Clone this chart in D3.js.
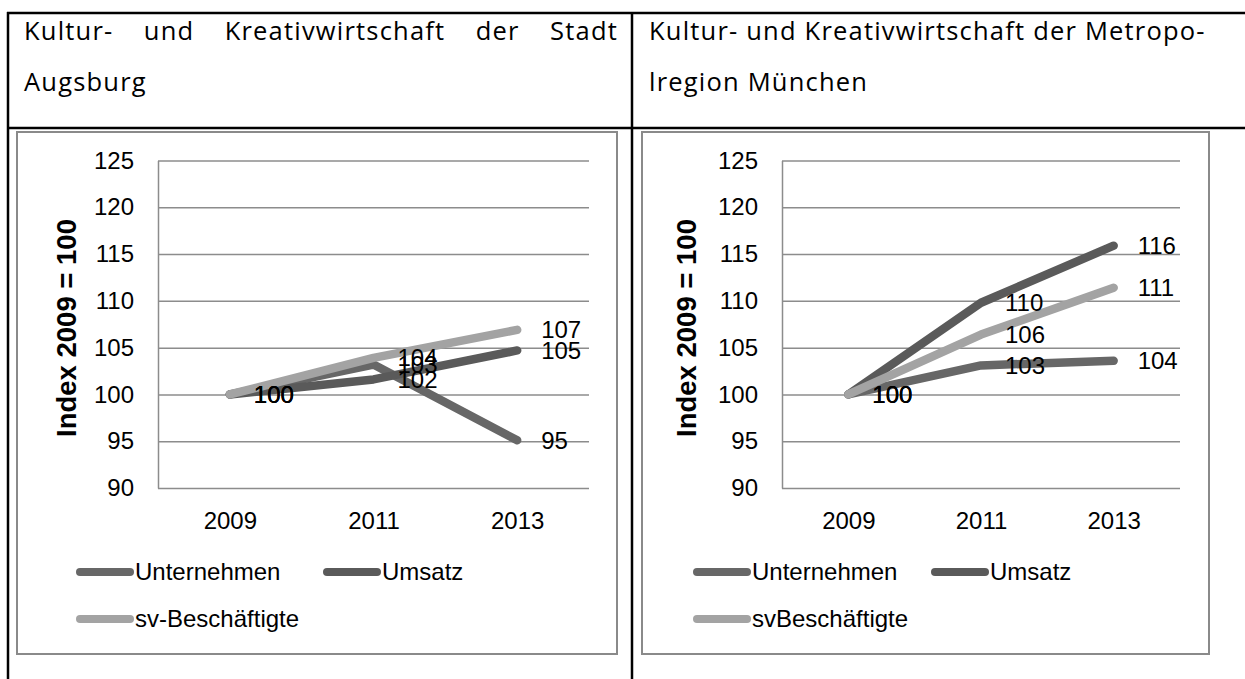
<!DOCTYPE html>
<html>
<head>
<meta charset="utf-8">
<script src="https://cdn.jsdelivr.net/npm/d3@7"></script>
<style>
  body { margin: 0; background: #fff; }
</style>
</head>
<body>
<div id="chart"></div>
<script>
(function() {

    // data
    var years = ["2009", "2011", "2013"];
    var yTicks = [90, 95, 100, 105, 110, 115, 120, 125];

    var augsburgUnternehmen = [100, 103.2, 95.1];
    var augsburgUmsatz = [100, 101.6, 104.7];
    var augsburgSv = [100, 103.9, 106.9];

    var muenchenUnternehmen = [100, 103.1, 103.6];
    var muenchenUmsatz = [100, 109.8, 115.9];
    var muenchenSv = [100, 106.4, 111.4];

    var legendAugsburg = ["Unternehmen", "Umsatz", "sv-Beschäftigte"];
    var legendMuenchen = ["Unternehmen", "Umsatz", "svBeschäftigte"];

    var titleAugsburg = ["Kultur- und Kreativwirtschaft der Stadt", "Augsburg"];
    var titleMuenchen = ["Kultur- und Kreativwirtschaft der Metropo-", "lregion München"];
    var yTitle = "Index 2009 = 100";

    var width = 1245;
    var height = 679;
    var colors = ["#676767", "#5a5a5a", "#a3a3a3"];
    var chartFont = "'Liberation Sans', Arial, sans-serif";
    var headFont = "'Open Sans', 'DejaVu Sans', sans-serif";

    var svg = d3.select("#chart")
        .append("svg")
        .attr("width", width)
        .attr("height", height);

    svg.append("rect")
        .attr("width", width)
        .attr("height", height)
        .attr("fill", "#fff");

    // table around the two charts
    var table = svg.append("g")
        .attr("stroke", "#000")
        .attr("stroke-width", 2.5);
    table.append("line").attr("x1", 7).attr("x2", width).attr("y1", 13).attr("y2", 13);
    table.append("line").attr("x1", 7).attr("x2", width).attr("y1", 128).attr("y2", 128);
    table.append("line").attr("x1", 8).attr("x2", 8).attr("y1", 12).attr("y2", height);
    table.append("line").attr("x1", 632).attr("x2", 632).attr("y1", 12).attr("y2", height);

    // header cells, first line justified on the left
    function header(lines, x0, x1, justify) {
        var g = svg.append("g")
            .style("font-family", headFont)
            .style("font-size", "25.5px")
            .style("letter-spacing", "1.2px")
            .attr("fill", "#000");
        var baselines = [40, 91];
        lines.forEach(function(line, i) {
            if (i == 0 && justify) {
                var words = line.split(" ");
                var t = g.selectAll(null)
                    .data(words)
                    .enter()
                    .append("text")
                    .attr("y", baselines[i])
                    .text(d => d);
                var widths = t.nodes().map(n => n.getComputedTextLength());
                var gap = (x1 - x0 - d3.sum(widths)) / (words.length - 1);
                var pos = x0;
                t.attr("x", function(d, k) {
                    var p = pos;
                    pos += widths[k] + gap;
                    return p;
                });
            } else {
                g.append("text")
                    .attr("x", x0)
                    .attr("y", baselines[i])
                    .text(line);
            }
        });
    }

    header(titleAugsburg, 24, 618, true);
    header(titleMuenchen, 649, 1230, false);

    var charts = [
        {
            series: [augsburgUnternehmen, augsburgUmsatz, augsburgSv],
            names: legendAugsburg,
            frame: [17, 132, 617, 654],
            plot: [158, 589],
            titleX: 66,
            legendX: [76, 323]
        },
        {
            series: [muenchenUnternehmen, muenchenUmsatz, muenchenSv],
            names: legendMuenchen,
            frame: [642, 132, 1209, 654],
            plot: [782, 1180],
            titleX: 686,
            legendX: [693, 931]
        }
    ];

    var y = d3.scaleLinear().domain([90, 125]).range([488, 160.5]);

    charts.forEach(function(c) {

        var g = svg.append("g")
            .style("font-family", chartFont);

        g.append("rect")
            .attr("x", c.frame[0])
            .attr("y", c.frame[1])
            .attr("width", c.frame[2] - c.frame[0])
            .attr("height", c.frame[3] - c.frame[1])
            .attr("fill", "#fff")
            .attr("stroke", "#8a8a8a")
            .attr("stroke-width", 2);

        var x = d3.scalePoint()
            .domain(years)
            .range(c.plot)
            .padding(0.5);

        var plotW = c.plot[1] - c.plot[0];

        var yAxis = g.append("g")
            .attr("transform", "translate(" + c.plot[0] + ",0)")
            .call(d3.axisLeft(y)
                .tickValues(yTicks)
                .tickSize(-plotW)
                .tickSizeOuter(0)
                .tickPadding(24));
        yAxis.selectAll("line").attr("stroke", "#8c8c8c").attr("stroke-width", 1.5);
        yAxis.select(".domain").attr("stroke", "#8c8c8c").attr("stroke-width", 1.5);
        yAxis.selectAll("text")
            .attr("fill", "#000")
            .style("font-size", "24px")
            .style("font-family", chartFont);

        var xAxis = g.append("g")
            .attr("transform", "translate(0," + y(90) + ")")
            .call(d3.axisBottom(x).tickSize(0).tickPadding(24));
        xAxis.select(".domain").remove();
        xAxis.selectAll("text")
            .attr("fill", "#000")
            .style("font-size", "24px")
            .style("font-family", chartFont);

        g.append("text")
            .attr("transform", "translate(" + c.titleX + "," + 328 + ") rotate(-90)")
            .attr("text-anchor", "middle")
            .attr("dy", "0.35em")
            .style("font-size", "27.5px")
            .style("font-weight", "bold")
            .text(yTitle);

        var line = d3.line()
            .x((d, i) => x(years[i]))
            .y(d => y(d));

        g.selectAll(".series")
            .data(c.series)
            .enter()
            .append("path")
            .attr("d", line)
            .attr("fill", "none")
            .attr("stroke", (d, i) => colors[i])
            .attr("stroke-width", 8.5)
            .attr("stroke-linecap", "round")
            .attr("stroke-linejoin", "round");

        // data labels right of each point
        c.series.forEach(function(s) {
            g.selectAll(null)
                .data(s)
                .enter()
                .append("text")
                .attr("x", (d, i) => x(years[i]) + 24)
                .attr("y", d => y(d))
                .attr("dy", "0.35em")
                .style("font-size", "24px")
                .text(d => Math.round(d));
        });

        // legend, two rows
        var items = [
            { name: c.names[0], color: colors[0], x: c.legendX[0], y: 572 },
            { name: c.names[1], color: colors[1], x: c.legendX[1], y: 572 },
            { name: c.names[2], color: colors[2], x: c.legendX[0], y: 619 }
        ];
        var leg = g.selectAll(".leg")
            .data(items)
            .enter()
            .append("g");
        leg.append("line")
            .attr("x1", d => d.x + 4)
            .attr("x2", d => d.x + 54)
            .attr("y1", d => d.y)
            .attr("y2", d => d.y)
            .attr("stroke", d => d.color)
            .attr("stroke-width", 8)
            .attr("stroke-linecap", "round");
        leg.append("text")
            .attr("x", d => d.x + 59)
            .attr("y", d => d.y)
            .attr("dy", "0.35em")
            .style("font-size", "24px")
            .text(d => d.name);
    });

})();
</script>
</body>
</html>
